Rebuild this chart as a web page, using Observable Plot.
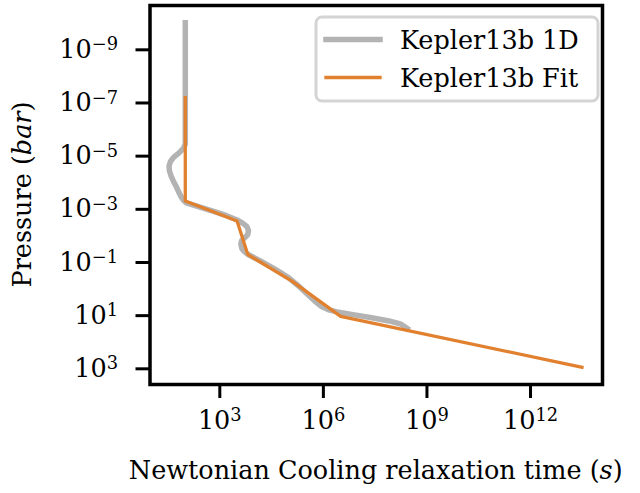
<!DOCTYPE html>
<html><head><meta charset="utf-8">
<script src="https://cdn.jsdelivr.net/npm/d3@7"></script>
<script src="https://cdn.jsdelivr.net/npm/@observablehq/plot@0.6"></script>
<style>
  html,body{margin:0;padding:0;background:#fff;}
  #chart{position:relative;width:640px;height:493px;}
</style>
</head><body><div id="chart"></div>
<script>
// ---- data (log10 values) ----
const seriesNames = ["Kepler13b 1D", "Kepler13b Fit"];
const seriesColors = ["#b3b3b3", "#e1802e"];
// 1D model: log10 relaxation time (s) and log10 pressure (bar)
const oneDLogTime = [2.0, 2.0, 1.95, 1.82, 1.66, 1.57, 1.53, 1.54, 1.59, 1.66, 1.74, 1.81, 1.88, 1.95, 2.03, 2.4, 2.8, 3.2, 3.5, 3.66, 3.78, 3.83, 3.81, 3.72, 3.63, 3.61, 3.64, 3.72, 3.82, 4.2, 4.6, 5.0, 5.25, 5.5, 5.75, 5.95, 6.15, 6.4, 6.9, 7.4, 7.9, 8.25, 8.43];
const oneDLogP    = [-10.02, -5.45, -5.3, -5.12, -4.95, -4.8, -4.62, -4.45, -4.25, -4.05, -3.85, -3.65, -3.47, -3.33, -3.24, -3.09, -2.93, -2.76, -2.6, -2.48, -2.36, -2.2, -2.05, -1.93, -1.82, -1.68, -1.52, -1.4, -1.3, -1.04, -0.75, -0.42, -0.15, 0.15, 0.45, 0.66, 0.78, 0.86, 0.97, 1.08, 1.2, 1.32, 1.48];
// fit
const fitLogTime = [2.0, 2.0, 3.5, 3.81, 5.1, 6.5, 13.49];
const fitLogP    = [-7.2, -3.31, -2.56, -1.30, -0.29, 1.03, 2.94];
// ticks
const xTickExps = [3, 6, 9, 12];
const yTickExps = [-9, -7, -5, -3, -1, 1, 3];
const xLabelText = ["Newtonian Cooling relaxation time (", "s", ")"];
const yLabelText = ["Pressure (", "bar", ")"];

// ---- build tables ----
const oneD = oneDLogTime.map((t, i) => ({t: 10 ** t, p: 10 ** oneDLogP[i]}));
const fit = fitLogTime.map((t, i) => ({t: 10 ** t, p: 10 ** fitLogP[i]}));

const FONT = "DejaVu Serif";
const FS = 25.5;
const W = 640, H = 493;
const mL = 149.5, mR = 38, mT = 5, mB = 109;

const chart = Plot.plot({
  width: W, height: H,
  marginLeft: mL, marginRight: mR, marginTop: mT, marginBottom: mB,
  style: {fontFamily: FONT, fontSize: FS + "px", color: "#000", background: "#fff", overflow: "visible"},
  x: {type: "log", domain: [10 ** 0.978, 10 ** 14.085]},
  y: {type: "log", domain: [10 ** -10.667, 10 ** 3.59], reverse: true},
  marks: [
    Plot.line(oneD, {x: "t", y: "p", stroke: seriesColors[0], strokeWidth: 5.5, strokeLinejoin: "round", strokeLinecap: "square"}),
    Plot.line(fit, {x: "t", y: "p", stroke: seriesColors[1], strokeWidth: 3.3, strokeLinejoin: "round", strokeLinecap: "square"}),
    Plot.axisX({ticks: xTickExps.map(e => 10 ** e), tickFormat: d => "10^" + Math.round(Math.log10(d)), tickSize: 14, tickPadding: 12, strokeWidth: 3, label: null, fontSize: FS}),
    Plot.axisY({ticks: yTickExps.map(e => 10 ** e), tickFormat: d => "10^" + Math.round(Math.log10(d)), tickSize: 14, tickPadding: 18, strokeWidth: 3, label: null, fontSize: FS}),
    Plot.frame({stroke: "#000", strokeWidth: 3.5})
  ]
});
document.getElementById("chart").appendChild(chart);

const svg = d3.select(chart);
// superscripts in tick labels
svg.selectAll('g[aria-label="x-axis tick label"] text, g[aria-label="y-axis tick label"] text').each(function() {
  const s = d3.select(this);
  const txt = s.text();
  const m = txt.match(/^10\^(-?\d+)$/);
  if (!m) return;
  s.text(null);
  s.append("tspan").text("10");
  s.append("tspan").attr("dy", "-0.42em").attr("font-size", "70%").text(m[1].replace("-", "\u2212"));
});

// axis titles
const xt = svg.append("text").attr("x", mL + (W - mL - mR) / 2).attr("y", 479)
  .attr("text-anchor", "middle").attr("font-family", FONT).attr("font-size", FS).attr("fill", "#000");
xt.append("tspan").text(xLabelText[0]);
xt.append("tspan").attr("font-style", "italic").text(xLabelText[1]);
xt.append("tspan").text(xLabelText[2]);

const yt = svg.append("text").attr("transform", `translate(31,${mT + (H - mT - mB) / 2}) rotate(-90)`)
  .attr("text-anchor", "middle").attr("font-family", FONT).attr("font-size", FS).attr("fill", "#000");
yt.append("tspan").text(yLabelText[0]);
yt.append("tspan").attr("font-style", "italic").text(yLabelText[1]);
yt.append("tspan").text(yLabelText[2]);

// legend
const lg = svg.append("g").attr("aria-label", "legend");
lg.append("rect").attr("x", 316).attr("y", 17).attr("width", 282).attr("height", 84).attr("rx", 6)
  .attr("fill", "#fff").attr("fill-opacity", 0.8).attr("stroke", "#d4d4d4").attr("stroke-width", 3);
const lw = [5.5, 3.3];
const ly = [39.5, 77.5];
seriesNames.forEach((name, i) => {
  lg.append("line").attr("x1", 326).attr("x2", 380).attr("y1", ly[i]).attr("y2", ly[i])
    .attr("stroke", seriesColors[i]).attr("stroke-width", lw[i]).attr("stroke-linecap", "square");
  lg.append("text").attr("x", 400).attr("y", ly[i] + 9.5).attr("text-anchor", "start").attr("font-family", FONT).attr("font-size", FS)
    .attr("fill", "#000").text(name);
});
</script>
</body></html>
